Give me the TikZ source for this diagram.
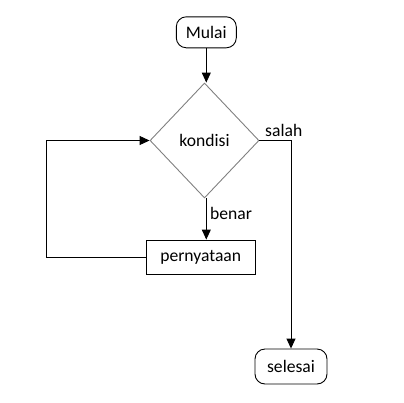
\documentclass[tikz,border=0pt]{standalone}
\usepackage{fontspec}
\setmainfont{Carlito}
\usetikzlibrary{shapes.geometric,arrows.meta}
\tikzset{
  terminal/.style={draw, rounded corners=10pt, minimum width=60pt, minimum height=31pt, inner sep=0pt},
  proses/.style={draw, minimum width=109pt, minimum height=34pt, inner sep=0pt},
  keputusan/.style={draw=black!50, diamond, minimum width=109pt, minimum height=115pt, inner sep=0pt},
  panah/.style={-{Triangle[length=10pt,width=9pt]}},
}
\begin{document}
\begin{tikzpicture}[x=1pt, y=-1pt, line width=0.9pt, font=\fontsize{17.6}{21}\selectfont]
      \useasboundingbox (0,0) rectangle (404,402);
      \draw
        (206.3,32.3) node[terminal] (mulai){Mulai}
        (204.5,140.5) node[keputusan] (kondisi){kondisi}
        (200.7,257) node[proses] (pernyataan){pernyataan}
        (291,366.5) node[terminal, minimum width=72pt, minimum height=35pt] (selesai){selesai};
      \coordinate (balik) at (46,257);
      \begin{scope}[panah]
        \draw (mulai) to (mulai |- kondisi.north);
        \draw (kondisi.south -| mulai) -- node[pos=0.36, right]{benar} (pernyataan.north -| mulai);
        \draw (kondisi.east) -- node[pos=0, anchor=south west, xshift=2pt]{salah} (kondisi.east -| selesai) -- (selesai.north);
        \draw (pernyataan.west) -- (balik) |- (kondisi.west);
      \end{scope}
    \end{tikzpicture}
\end{document}
